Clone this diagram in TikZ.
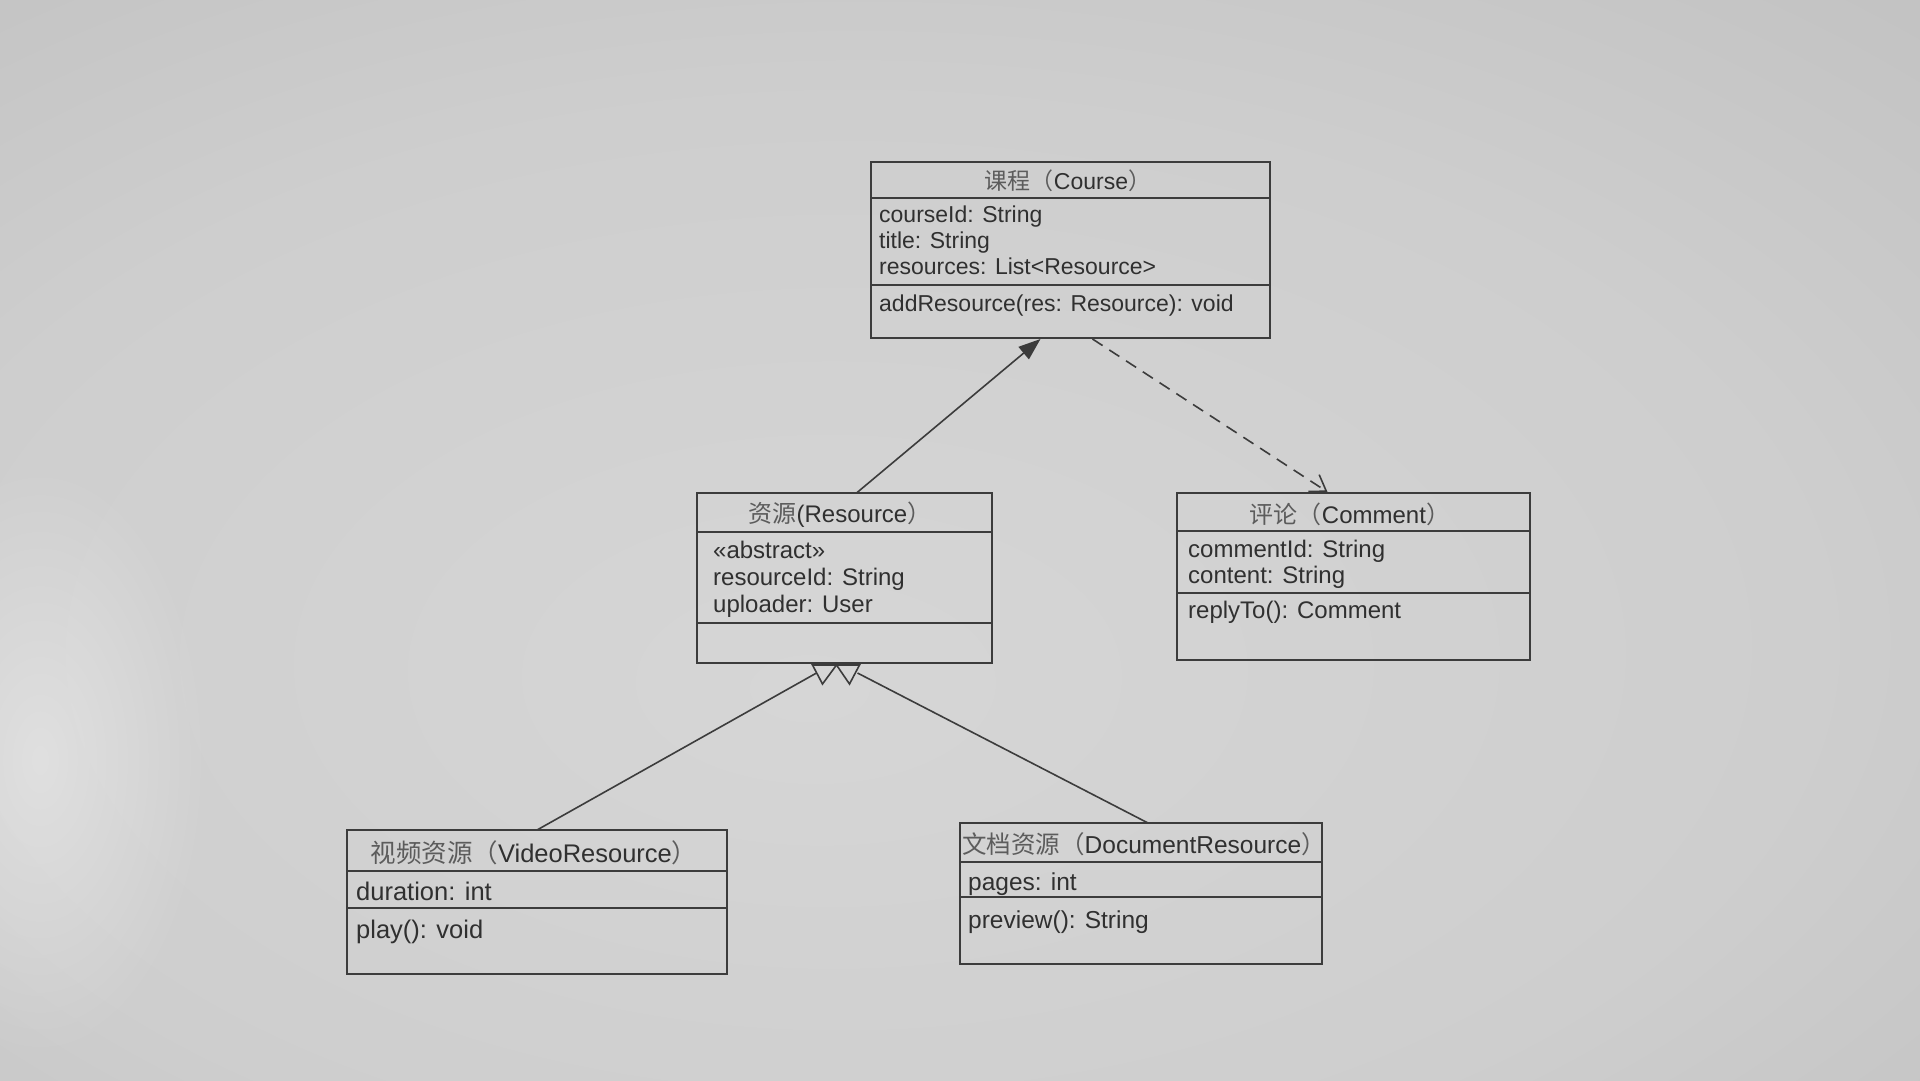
\documentclass[tikz,border=0pt]{standalone}
\usepackage{fontspec}
\setmainfont{Liberation Sans}
\newfontfamily\cjk{Noto Sans CJK SC}
\usetikzlibrary{arrows.meta,calc,fadings}
\definecolor{ink}{HTML}{3C3C3C}
\definecolor{txt}{HTML}{303030}
\definecolor{cjkgray}{HTML}{5C5C5C}
\definecolor{bgA}{HTML}{D6D6D6}
\definecolor{bgB}{HTML}{CECECE}
\definecolor{bgC}{HTML}{BEBEBE}
\definecolor{bgD}{HTML}{A6A6A6}
\definecolor{bgE}{HTML}{9C9C9C}
\pgfdeclareradialshading{bgshade}{\pgfpoint{-4bp}{-7bp}}{color(0bp)=(bgA); color(25bp)=(bgB); color(45bp)=(bgC); color(62bp)=(bgD); color(80bp)=(bgE)}
\tikzfading[name=softspot, inner color=transparent!0, outer color=transparent!100]
\newcommand{\zh}[1]{{\cjk\color{cjkgray}#1}}
\tikzset{
  box/.style={draw=ink, line width=1.6pt, inner sep=0pt, outer sep=0pt, anchor=north west},
  sepline/.style={draw=ink, line width=1.5pt},
  attr/.style={anchor=base west, inner sep=0pt, text=txt},
  head/.style={anchor=base, inner sep=0pt, text=txt},
  assoc/.style={draw=ink, line width=1.6pt, -{Triangle[length=22pt,width=16pt]}},
  dep/.style={draw=ink, line width=1.6pt, dash pattern=on 12pt off 8pt, -{Straight Barb[length=15pt,width=20pt]}},
  gen/.style={draw=ink, line width=1.6pt},
  tri/.style={draw=ink, line width=1.6pt, line join=miter},
  fA/.style={font=\fontsize{23}{26}\selectfont},
  fB/.style={font=\fontsize{24}{27}\selectfont},
  fC/.style={font=\fontsize{25.5}{28}\selectfont},
  fD/.style={font=\fontsize{24.5}{28}\selectfont},
}
\begin{document}
\begin{tikzpicture}[x=1pt,y=-1pt]
\useasboundingbox (0,0) rectangle (1920,1080);
\shade[shading=bgshade] (0,0) rectangle (1920,1080);
\fill[white, opacity=0.35, path fading=softspot] (40,760) ellipse (170 and 300);

% Course
\node[box, minimum width=399pt, minimum height=176pt] (course) at (871,162) {};
\draw[sepline] (871,198) -- (1270,198);
\draw[sepline] (871,285) -- (1270,285);
\node[head, fA] (courseH) at (1068,189) {\zh{课程（}Course\zh{）}};
\node[attr, fA] (courseA1) at (879,222) {courseId: String};
\node[attr, fA] (courseA2) at (879,248) {title: String};
\node[attr, fA] (courseA3) at (879,274) {resources: List<Resource>};
\node[attr, fA] (courseM1) at (879,311) {addResource(res: Resource): void};

% Resource
\node[box, minimum width=295pt, minimum height=170pt] (res) at (697,493) {};
\draw[sepline] (697,532) -- (992,532);
\draw[sepline] (697,623) -- (992,623);
\node[head, fB] (resH) at (840,522) {\zh{资源}(Resource\zh{）}};
\node[attr, fB] (resA1) at (713,558) {«abstract»};
\node[attr, fB] (resA2) at (713,585) {resourceId: String};
\node[attr, fB] (resA3) at (713,612) {uploader: User};

% Comment
\node[box, minimum width=353pt, minimum height=167pt] (comment) at (1177,493) {};
\draw[sepline] (1177,531) -- (1530,531);
\draw[sepline] (1177,593) -- (1530,593);
\node[head, fB] (commentH) at (1350,523) {\zh{评论（}Comment\zh{）}};
\node[attr, fB] (commentA1) at (1188,557) {commentId: String};
\node[attr, fB] (commentA2) at (1188,583) {content: String};
\node[attr, fB] (commentM1) at (1188,618) {replyTo(): Comment};

% VideoResource
\node[box, minimum width=380pt, minimum height=144pt] (video) at (347,830) {};
\draw[sepline] (347,871) -- (727,871);
\draw[sepline] (347,908) -- (727,908);
\node[head, fC] (videoH) at (534,862) {\zh{视频资源（}VideoResource\zh{）}};
\node[attr, fC] (videoA1) at (356,900) {duration: int};
\node[attr, fC] (videoM1) at (356,938) {play(): void};

% DocumentResource
\node[box, minimum width=362pt, minimum height=141pt] (doc) at (960,823) {};
\draw[sepline] (960,862) -- (1322,862);
\draw[sepline] (960,897) -- (1322,897);
\node[attr, fD] (docH) at (962,853) {\zh{文档资源（}DocumentResource\zh{）}};
\node[attr, fD] (docA1) at (968,890) {pages: int};
\node[attr, fD] (docM1) at (968,928) {preview(): String};

% generalization triangles under Resource
\coordinate (t1a) at ($(res.south)+(-32,2)$);
\coordinate (t1b) at ($(res.south)+(-8,2)$);
\coordinate (t1c) at ($(res.south)+(-22,21)$);
\coordinate (t2b) at ($(res.south)+(15,2)$);
\coordinate (t2c) at ($(res.south)+(5,21)$);
\draw[tri] (t1a) -- (t1b) -- (t1c) -- cycle;
\draw[tri] (t1b) -- (t2b) -- (t2c) -- cycle;
\coordinate (genL) at ($(res.south)+(-28,10)$);
\coordinate (genR) at ($(res.south)+(13,10)$);

% connectors
\draw[assoc] ($(res.north)+(12,0)$) -- ($(course.south)+(-30,1)$);
\draw[dep] ($(course.south)+(22,1)$) -- ($(comment.north)+(-26,-1)$);
\draw[gen] (video.north) -- (genL);
\draw[gen] ($(doc.north)+(7,0)$) -- (genR);
\end{tikzpicture}
\end{document}
